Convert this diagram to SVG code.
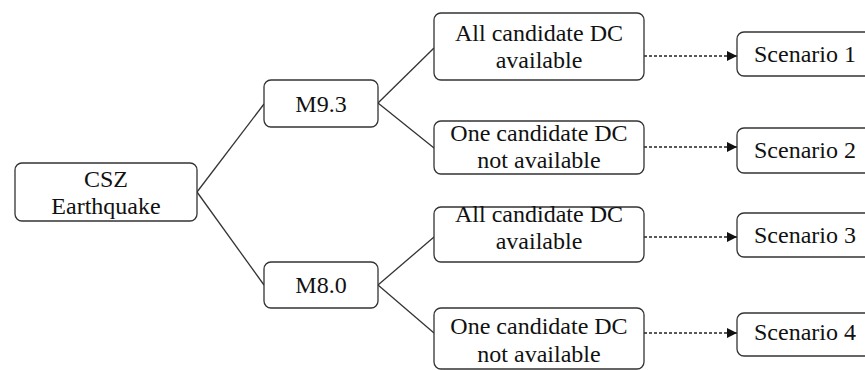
<svg xmlns="http://www.w3.org/2000/svg" width="865" height="370" viewBox="0 0 865 370">
<defs>
<style>
.box{fill:#fff;stroke:#333;stroke-width:1.3}
.t{font-family:'Liberation Serif','DejaVu Serif',serif;font-size:24px;fill:#111;text-anchor:middle}
.ln{fill:none;stroke:#333;stroke-width:1.3}
.dash{fill:none;stroke:#222;stroke-width:1.3;stroke-dasharray:3 2}
</style>
<marker id="arr" markerUnits="userSpaceOnUse" markerWidth="12" markerHeight="12" refX="10" refY="5" orient="auto">
<polygon points="0,0 10,5 0,10" fill="#111"/>
</marker>
</defs>
<rect width="865" height="370" fill="#fff"/>
<g id="connectors">
<line class="ln" x1="197" y1="192" x2="264" y2="104"/>
<line class="ln" x1="197" y1="192" x2="264" y2="285"/>
<line class="ln" x1="378" y1="103" x2="434" y2="48"/>
<line class="ln" x1="378" y1="103" x2="434" y2="148"/>
<line class="ln" x1="378" y1="285" x2="434" y2="237"/>
<line class="ln" x1="378" y1="285" x2="434" y2="333"/>
<line class="dash" x1="644" y1="56" x2="737" y2="56" marker-end="url(#arr)"/>
<line class="dash" x1="644" y1="147" x2="737" y2="147" marker-end="url(#arr)"/>
<line class="dash" x1="644" y1="237" x2="737" y2="237" marker-end="url(#arr)"/>
<line class="dash" x1="644" y1="333" x2="737" y2="333" marker-end="url(#arr)"/>
</g>
<g id="csz">
<rect class="box" x="15" y="163" width="182" height="58" rx="7"/>
<text class="t" x="106" y="187">CSZ</text>
<text class="t" x="106" y="214">Earthquake</text>
</g>
<g id="m93">
<rect class="box" x="264" y="80" width="114" height="47" rx="7"/>
<text class="t" x="321" y="112">M9.3</text>
</g>
<g id="m80">
<rect class="box" x="264" y="262" width="114" height="46" rx="7"/>
<text class="t" x="321" y="293">M8.0</text>
</g>
<g id="n1">
<rect class="box" x="434" y="13" width="210" height="67" rx="7"/>
<text class="t" x="539" y="41">All candidate DC</text>
<text class="t" x="539" y="68">available</text>
</g>
<g id="n2">
<rect class="box" x="434" y="121" width="210" height="53" rx="7"/>
<text class="t" x="539" y="141">One candidate DC</text>
<text class="t" x="539" y="168">not available</text>
</g>
<g id="n3">
<rect class="box" x="434" y="207" width="210" height="55" rx="7"/>
<text class="t" x="539" y="222">All candidate DC</text>
<text class="t" x="539" y="249">available</text>
</g>
<g id="n4">
<rect class="box" x="434" y="308" width="210" height="61" rx="7"/>
<text class="t" x="539" y="334">One candidate DC</text>
<text class="t" x="539" y="362">not available</text>
</g>
<g id="s1">
<rect class="box" x="737" y="32" width="137" height="44" rx="7"/>
<text class="t" x="805" y="62">Scenario 1</text>
</g>
<g id="s2">
<rect class="box" x="737" y="128" width="137" height="45" rx="7"/>
<text class="t" x="805" y="158">Scenario 2</text>
</g>
<g id="s3">
<rect class="box" x="737" y="213" width="137" height="44" rx="7"/>
<text class="t" x="805" y="243">Scenario 3</text>
</g>
<g id="s4">
<rect class="box" x="737" y="313" width="137" height="43" rx="7"/>
<text class="t" x="805" y="340">Scenario 4</text>
</g>
</svg>
